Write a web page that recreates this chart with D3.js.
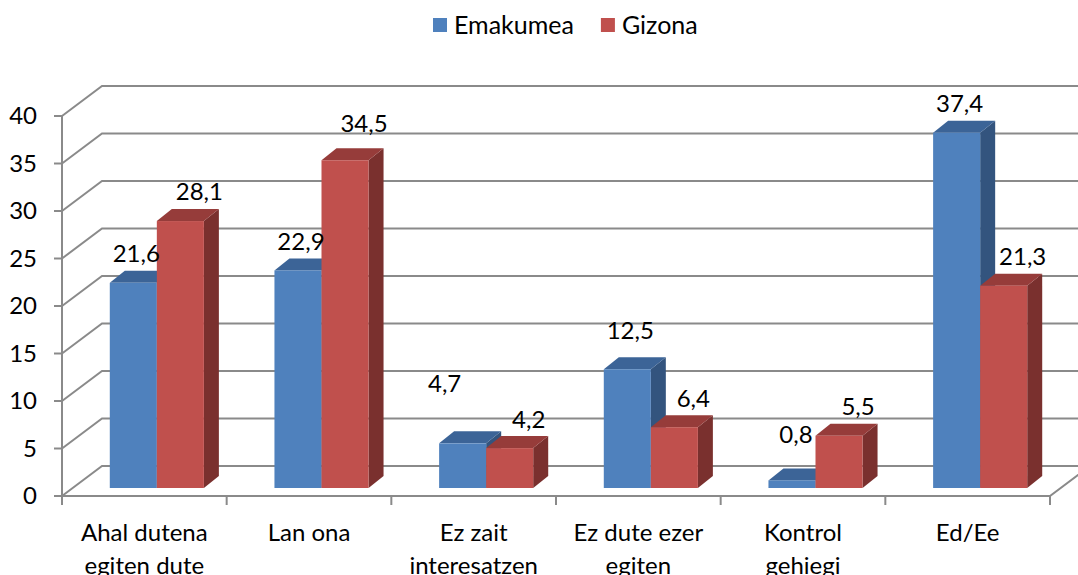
<!DOCTYPE html>
<html>
<head>
<meta charset="utf-8">
<script src="https://cdn.jsdelivr.net/npm/d3@7"></script>
<style>
  html, body { margin: 0; padding: 0; background: #ffffff; }
  svg text { font-family: Lato, "Open Sans", sans-serif; fill: #000; }
</style>
</head>
<body>
<svg id="chart" width="1078" height="575"></svg>
<script>
// Survey answers, share (%) by sex
const categories = ["Ahal dutena egiten dute", "Lan ona", "Ez zait interesatzen",
                    "Ez dute ezer egiten", "Kontrol gehiegi", "Ed/Ee"];
const seriesNames = ["Emakumea", "Gizona"];
const emakumea = [21.6, 22.9, 4.7, 12.5, 0.8, 37.4];
const gizona   = [28.1, 34.5, 4.2, 6.4, 5.5, 21.3];
const yTicks   = [0, 5, 10, 15, 20, 25, 30, 35, 40];

const seriesValues = [emakumea, gizona];

// colours: front, top, side faces
const palette = [
  { front: "#4F81BD", top: "#3C6497", side: "#33547E" },
  { front: "#C0504D", top: "#963C3A", side: "#7A302E" }
];

const fontSize = 24;
const legendFontSize = 25;
const gridColor = "#8A8A8A";

// plot frame (front plane)
const plotLeft = 62, plotRight = 1050, plotBottom = 496, plotTop = 116;
const wallDX = 40, wallDY = -30;      // depth of the back wall
const barDX = 12.5, barDY = -8;       // bars stand part way into the floor
const depthDX = 15, depthDY = -12;    // thickness of each bar

const svg = d3.select("#chart");

const x0 = d3.scaleBand().domain(categories).range([plotLeft, plotRight]).paddingInner(0).paddingOuter(0);
const x1 = d3.scaleBand().domain(seriesNames).range([0, x0.bandwidth()])
  .paddingInner(0).paddingOuter(0.75);
const y = d3.scaleLinear().domain([0, 40]).range([plotBottom, plotTop]);

const fmt = d3.formatLocale({ decimal: ",", thousands: ".", grouping: [3], currency: ["", ""] }).format(".1f");

// --- walls and gridlines ---
const grid = svg.append("g").attr("stroke", gridColor).attr("stroke-width", 2).attr("fill", "none");
yTicks.forEach(t => {
  const yy = y(t);
  grid.append("path").attr("d", d3.line()([[plotLeft, yy], [plotLeft + wallDX, yy + wallDY], [plotRight + wallDX, yy + wallDY]]));
});
// floor front edge and right edge
grid.append("path").attr("d", d3.line()([[plotLeft, plotBottom], [plotRight, plotBottom], [plotRight + wallDX, plotBottom + wallDY]]));
// vertical axis line
grid.append("line").attr("x1", plotLeft).attr("x2", plotLeft).attr("y1", y(40)).attr("y2", plotBottom + 9);
// y ticks
yTicks.forEach(t => {
  grid.append("line").attr("x1", plotLeft - 8).attr("x2", plotLeft).attr("y1", y(t)).attr("y2", y(t));
});
// x ticks at category boundaries
const boundaries = categories.map(c => x0(c)).concat([plotRight]);
boundaries.slice(1).forEach(bx => {
  grid.append("line").attr("x1", bx).attr("x2", bx).attr("y1", plotBottom).attr("y2", plotBottom + 9);
});

// y tick labels
svg.append("g").selectAll("text").data(yTicks).join("text")
  .attr("x", 37).attr("y", d => y(d)).attr("dy", "0.35em")
  .attr("text-anchor", "end").attr("font-size", fontSize).text(d => d);

// --- bars ---
const bars = svg.append("g");
const barData = [];
categories.forEach((c, i) => {
  seriesNames.forEach((s, k) => {
    barData.push({ cat: c, i, k, series: s, value: seriesValues[k][i] });
  });
});

barData.forEach(d => {
  const w = x1.bandwidth();
  const xl = x0(d.cat) + x1(d.series) + barDX;
  const xr = xl + w;
  const yb = y(0) + barDY;
  const yt = y(d.value) + barDY;
  const col = palette[d.k];
  const g = bars.append("g");
  // side face
  g.append("path").attr("fill", col.side)
    .attr("d", d3.line()([[xr, yt], [xr + depthDX, yt + depthDY], [xr + depthDX, yb + depthDY], [xr, yb]]) + "Z");
  // top face
  g.append("path").attr("fill", col.top)
    .attr("d", d3.line()([[xl, yt], [xl + depthDX, yt + depthDY], [xr + depthDX, yt + depthDY], [xr, yt]]) + "Z");
  // front face
  g.append("rect").attr("fill", col.front)
    .attr("x", xl).attr("y", yt).attr("width", w).attr("height", yb - yt);
  d.cx = (xl + xr) / 2;
  d.yt = yt;
});

// --- value labels ---
const seriesLabelDX = [3, 19];
const labelLift = 29;
// a few labels sit higher or further left than the rest
const labelAdjust = { "0-2": { dx: -21, dy: -31 }, "0-4": { dx: 1, dy: -17 },
                      "1-1": { dx: 0, dy: -8 }, "0-3": { dx: 0, dy: -10 } };
svg.append("g").selectAll("text").data(barData).join("text")
  .attr("x", d => d.cx + seriesLabelDX[d.k] + ((labelAdjust[d.k + "-" + d.i] || {}).dx || 0))
  .attr("y", d => d.yt - labelLift + ((labelAdjust[d.k + "-" + d.i] || {}).dy || 0))
  .attr("dy", "0.35em").attr("text-anchor", "middle").attr("font-size", fontSize)
  .text(d => fmt(d.value));

// --- category labels (wrapped; the second line runs off the bottom edge) ---
const catG = svg.append("g");
categories.forEach(c => {
  const cx = x0(c) + x0.bandwidth() / 2;
  const t = catG.append("text").attr("text-anchor", "middle").attr("font-size", fontSize)
    .attr("x", cx).attr("y", 541);
  const words = c.split(" ");
  let line = [];
  let tspan = t.append("tspan").attr("x", cx).attr("dy", 0);
  words.forEach(wd => {
    line.push(wd);
    tspan.text(line.join(" "));
    if (tspan.node().getComputedTextLength() > 145 && line.length > 1) {
      line.pop();
      tspan.text(line.join(" "));
      line = [wd];
      tspan = t.append("tspan").attr("x", cx).attr("dy", 33).text(wd);
    }
  });
});

// --- legend ---
const legend = svg.append("g");
let lx = 433;
seriesNames.forEach((s, k) => {
  legend.append("rect").attr("x", lx).attr("y", 18).attr("width", 14).attr("height", 14)
    .attr("fill", palette[k].front);
  const txt = legend.append("text").attr("x", lx + 21).attr("y", 25).attr("dy", "0.35em")
    .attr("font-size", legendFontSize).text(s);
  lx += 21 + txt.node().getComputedTextLength() + 27;
});
</script>
</body>
</html>
